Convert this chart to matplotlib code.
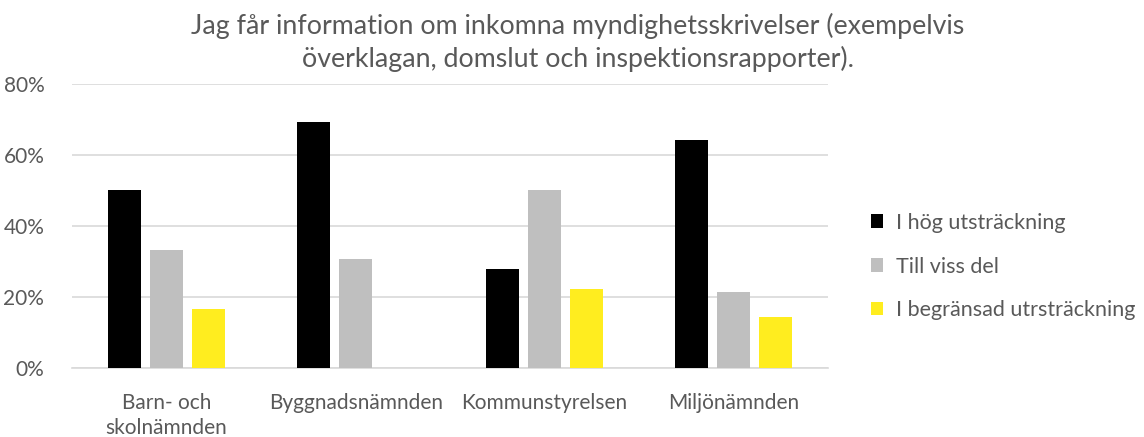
import numpy as np
import matplotlib.pyplot as plt
from matplotlib.ticker import PercentFormatter

# data
categories = ["Barn- och\nskolnämnden", "Byggnadsnämnden", "Kommunstyrelsen", "Miljönämnden"]
series_names = ["I hög utsträckning", "Till viss del", "I begränsad utrsträckning"]
hog = [50.0, 69.2, 27.8, 64.3]
viss = [33.3, 30.8, 50.0, 21.4]
begransad = [16.7, 0.0, 22.2, 14.3]
colors = ["#000000", "#BFBFBF", "#FFED1F"]

plt.rcParams['font.family'] = ['Lato', 'DejaVu Sans']
txt = "#595959"

fig = plt.figure(figsize=(11.44, 4.37), dpi=100)
ax = fig.add_axes([0.063, 0.158, 0.661, 0.65])

x = np.arange(len(categories))
w = 0.175
step = 0.222
for i, (vals, name) in enumerate(zip([hog, viss, begransad], series_names)):
	ax.bar(x + (i - 1) * step, vals, w, color=colors[i], label=name, zorder=3)

ax.set_xlim(-0.5, len(categories) - 0.5)
ax.set_ylim(0, 80)
ax.set_yticks([0, 20, 40, 60, 80])
ax.yaxis.set_major_formatter(PercentFormatter(decimals=0))
ax.set_xticks(x)
ax.set_xticklabels(categories)
ax.grid(axis='y', color='#D9D9D9', linewidth=1.2, zorder=0)
for s in ['top', 'right', 'left']:
	ax.spines[s].set_visible(False)
ax.spines['bottom'].set_color('#D9D9D9')
ax.spines['bottom'].set_linewidth(1.2)
ax.tick_params(axis='x', length=0, labelsize=15, colors=txt, pad=18)
ax.tick_params(axis='y', length=0, labelsize=15, colors=txt, pad=20)
for lab in ax.get_xticklabels():
	lab.set_linespacing(1.3)

fig.text(0.505, 0.97, "Jag får information om inkomna myndighetsskrivelser (exempelvis\növerklagan, domslut och inspektionsrapporter).",
	ha='center', va='top', fontsize=19.3, color=txt, linespacing=1.3)

leg = fig.legend(loc='center left', bbox_to_anchor=(0.744, 0.39), frameon=False,
	fontsize=15.5, labelcolor=txt, handlelength=0.6, handleheight=0.6,
	handletextpad=0.6, labelspacing=1.1)

fig.savefig("out.png")
